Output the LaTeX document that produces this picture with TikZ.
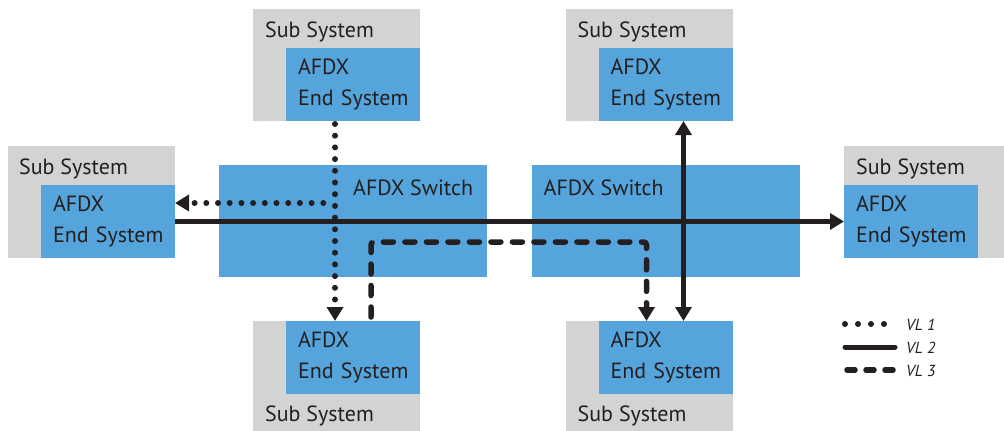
\documentclass[tikz,border=0pt]{standalone}
\usepackage{fontspec}
\setmainfont{PT Sans}
\usetikzlibrary{arrows.meta,calc}
\definecolor{afdxblue}{HTML}{55A5DC}
\definecolor{subgray}{HTML}{D3D3D3}
\definecolor{ink}{HTML}{231F20}
\hbadness=10000 \hfuzz=50pt
\begin{document}
\begin{tikzpicture}[x=1pt,y=-1pt,
  subsys/.style={fill=subgray, draw=none, minimum width=167pt, minimum height=112pt, inner sep=0pt, outer sep=0pt, anchor=north west},
  endsys/.style={fill=afdxblue, draw=none, minimum width=134pt, minimum height=73pt, text width=110pt, inner xsep=12pt, inner ysep=0pt, outer sep=0pt, align=left, font=\fontsize{22}{31}\selectfont, text=ink, anchor=north west},
  switchbox/.style={fill=afdxblue, draw=none, minimum width=268pt, minimum height=112pt, inner sep=0pt, outer sep=0pt, anchor=north west},
  lbl/.style={font=\fontsize{22}{26}\selectfont, text=ink, inner sep=0pt, anchor=base west},
  leglbl/.style={font=\itshape\fontsize{16}{18}\selectfont, text=ink, inner sep=0pt, anchor=base west},
  tip/.style={-{Triangle[length=14pt,width=16pt]}},
  vlone/.style={ink, line width=6pt, line cap=round, dash pattern=on 0pt off 11.7pt},
  vltwo/.style={ink, line width=5pt},
  vlthree/.style={ink, line width=5.5pt, line cap=round, dash pattern=on 10pt off 11.5pt, rounded corners=3pt},
]
\useasboundingbox (0,0) rectangle (1004,431);
\begin{scope}
\clip (0,0) rectangle (1004,431);
% switches
\node[switchbox] (sw1) at (219,165) {};
\node[switchbox] (sw2) at (531.5,165) {};
\node[lbl] (sw1t) at ($(sw1.north west)+(134,30)$) {AFDX Switch};
\node[lbl] (sw2t) at ($(sw2.north west)+(12,30)$) {AFDX Switch};
% top-left
\node[subsys] (stl) at (253,9) {};
\node[endsys] (etl) at (286,48) {AFDX\\\mbox{End System}};
\node[lbl] (stlt) at ($(stl.north west)+(12,28)$) {Sub System};
% top-right
\node[subsys] (str) at (565.5,9) {};
\node[endsys] (etr) at (598.5,48) {AFDX\\\mbox{End System}};
\node[lbl] (strt) at ($(str.north west)+(12,28)$) {Sub System};
% left
\node[subsys] (sl) at (8,146) {};
\node[endsys] (el) at (41,185) {AFDX\\\mbox{End System}};
\node[lbl] (slt) at ($(sl.north west)+(11,28)$) {Sub System};
% right
\node[subsys] (sr) at (844,146) {};
\node[endsys] (er) at (844,185) {AFDX\\\mbox{End System}};
\node[lbl] (srt) at ($(sr.north west)+(12,28)$) {Sub System};
% bottom-left
\node[subsys] (sbl) at (253,321) {};
\node[endsys] (ebl) at (286,321) {AFDX\\\mbox{End System}};
\node[lbl] (sblt) at ($(sbl.north west)+(12,100)$) {Sub System};
% bottom-right
\node[subsys] (sbr) at (565.5,321) {};
\node[endsys] (ebr) at (598.5,321) {AFDX\\\mbox{End System}};
\node[lbl] (sbrt) at ($(sbr.north west)+(12,100)$) {Sub System};
\end{scope}
% guide coordinates
\coordinate (xone) at (335,0);
\coordinate (yone) at (0,203);
\coordinate (xtwo) at (683.5,0);
\coordinate (ythree) at (0,242);
\coordinate (xthreea) at (371,0);
\coordinate (xthreeb) at (646.5,0);
% VL 2
\draw[vltwo, tip] (el.east) -- (er.west);
\draw[vltwo, {Triangle[length=14pt,width=16pt]}-{Triangle[length=14pt,width=16pt]}] (etr.south -| xtwo) -- (ebr.north -| xtwo);
% VL 1
\draw[vlone, tip] (etl.south -| xone) ++(0,3) -- (ebl.north -| xone);
\draw[vlone, tip] (xone |- yone) ++(-11.7,0) -- (el.east |- yone);
% VL 3
\coordinate (dstart) at ($(ebl.north -| xthreea)+(0,-4)$);
\draw[vlthree, tip] (dstart) -- (xthreea |- ythree) -- (xthreeb |- ythree) -- (ebr.north -| xthreeb);
% legend
\coordinate (la1) at (845,324); \coordinate (lb1) at (884,324);
\coordinate (la2) at (845,347); \coordinate (lb2) at (895,347);
\coordinate (la3) at (847,370); \coordinate (lb3) at (893,370);
\draw[vlone, dash pattern=on 0pt off 13pt] (la1) -- (lb1);
\draw[vltwo, line cap=round] (la2) -- (lb2);
\draw[vlthree, dash pattern=on 8pt off 11pt] (la3) -- (lb3);
\node[leglbl] (l1) at (906,330) {VL 1};
\node[leglbl] (l2) at (906,353) {VL 2};
\node[leglbl] (l3) at (906,376) {VL 3};
\end{tikzpicture}
\end{document}
